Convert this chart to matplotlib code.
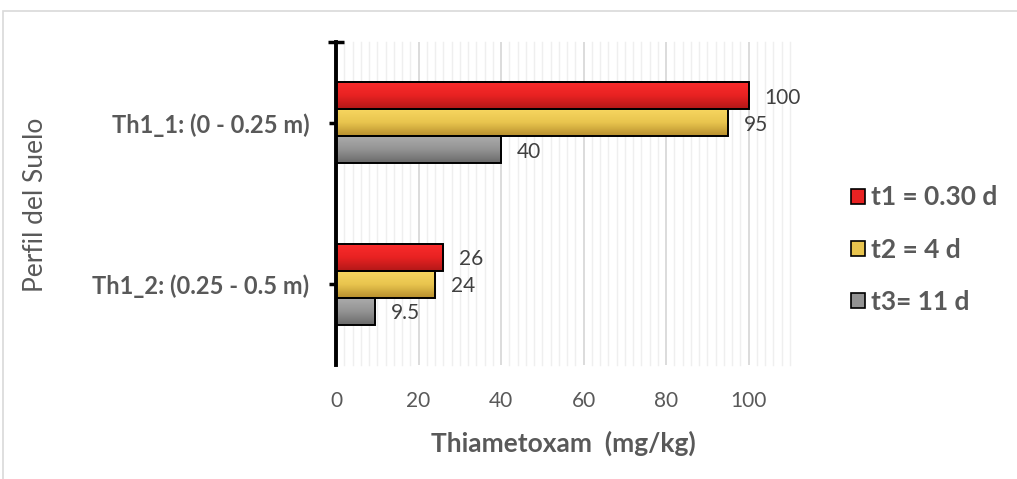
import matplotlib
matplotlib.use("Agg")
import matplotlib.pyplot as plt
import numpy as np
from matplotlib.patches import Rectangle, Patch
from matplotlib.colors import LinearSegmentedColormap

categories = ["Th1_1: (0 - 0.25 m)", "Th1_2: (0.25 - 0.5 m)"]
series_names = ["t1 = 0.30 d", "t2 = 4 d", "t3= 11 d"]
t1_values = [100, 26]
t2_values = [95, 24]
t3_values = [40, 9.5]
value_labels = [["100", "26"], ["95", "24"], ["40", "9.5"]]
x_ticks = [0, 20, 40, 60, 80, 100]

gradients = [
    ["#FA2B2B", "#E82222", "#B21818"],
    ["#F7D660", "#E8C44E", "#B88F2E"],
    ["#ABABAB", "#939393", "#6A6A6A"],
]
legend_colors = ["#E82222", "#E8C44E", "#939393"]

plt.rcParams['font.family'] = ['Lato', 'DejaVu Sans']
W, H = 1017, 479
fig = plt.figure(figsize=(W / 100, H / 100), dpi=100)

# outer chart border
fig.patches.append(Rectangle((3 / W, -0.1), 1.2, 1 - 11 / H + 0.1, transform=fig.transFigure,
                             fill=False, edgecolor="#D9D9D9", linewidth=1.2))

ax = fig.add_axes([336 / W, 1 - 365 / H, (790 - 336) / W, (365 - 42) / H])

all_vals = [t1_values, t2_values, t3_values]
n = len(series_names)
bh = 0.5 / n
y = np.arange(len(categories))
for i, vals in enumerate(all_vals):
    offs = (i - (n - 1) / 2) * bh
    bars = ax.barh(y + offs, vals, height=bh, facecolor="none", edgecolor="black",
                   linewidth=1.4, zorder=4)
    cmap = LinearSegmentedColormap.from_list("g%d" % i, gradients[i])
    grad = np.linspace(0, 1, 64).reshape(-1, 1)
    for b, lab in zip(bars, value_labels[i]):
        x0 = b.get_x(); w = b.get_width(); y0 = b.get_y(); h = b.get_height()
        ax.imshow(grad, cmap=cmap, aspect="auto", origin="upper",
                  extent=(x0, x0 + w, y0 + h, y0), zorder=3, interpolation="bilinear")
        ax.annotate(lab, (x0 + w, y0 + h / 2), xytext=(11.5, -1.5), textcoords="offset points",
                    ha="left", va="center", fontsize=15, color="#404040", zorder=5)

ax.set_xlim(0, 110)
ax.set_ylim(len(categories) - 0.5, -0.5)
ax.set_xticks(x_ticks)
ax.set_xticks(np.arange(0, 111, 2), minor=True)
ax.grid(axis="x", which="minor", color="#EFEFEF", linewidth=1.0, zorder=0)
ax.grid(axis="x", which="major", color="#D9D9D9", linewidth=1.3, zorder=1)
for gl in ax.xaxis.get_minorticklines() + ax.xaxis.get_gridlines():
    pass
for tk in ax.xaxis.get_minor_ticks():
    tk.gridline.set_clip_on(False)
ax.set_axisbelow(True)

ax.set_yticks(y)
ax.set_yticklabels(categories, fontsize=17, fontweight="bold", color="#595959")
ax.set_yticks([-0.5], minor=True)
ax.tick_params(axis="y", which="major", direction="inout", length=10, width=2.5, color="black", pad=14)
ax.tick_params(axis="y", which="minor", direction="inout", length=12, width=2.5, color="black")
ax.tick_params(axis="x", which="both", length=0, labelsize=15, labelcolor="#595959", pad=19)

for s in ["top", "right", "bottom"]:
    ax.spines[s].set_visible(False)
ax.spines["left"].set_linewidth(2.8)
ax.spines["left"].set_color("black")
ax.spines["left"].set_zorder(6)

ax.set_xlabel("Thiametoxam  (mg/kg)", fontsize=19, fontweight="bold", color="#595959", labelpad=14)
fig.text(36 / W, 1 - 205 / H, "Perfil del Suelo", rotation=90, ha="center", va="center",
         fontsize=19, color="#595959")

handles = [Patch(facecolor=c, edgecolor="black", linewidth=1.2) for c in legend_colors]
leg = fig.legend(handles, series_names, loc="upper left", bbox_to_anchor=(833 / W, 1 - 167 / H),
                 frameon=False, handlelength=0.5, handleheight=0.5, handletextpad=0.25,
                 labelspacing=1.07, borderpad=0.2, prop={"size": 19, "weight": "bold"})
for t in leg.get_texts():
    t.set_color("#595959")

fig.savefig("out.png", dpi=100)
